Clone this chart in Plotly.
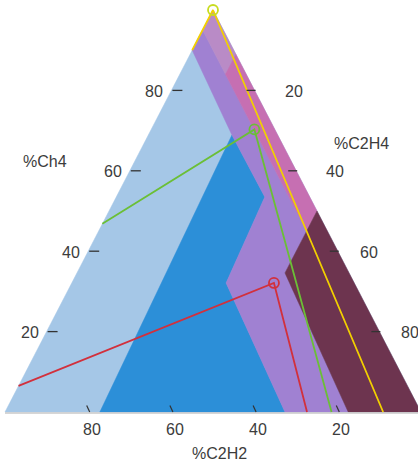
import plotly.graph_objects as go

# ---------------- data (ternary %: CH4, C2H4, C2H2) ----------------
zone_D2_ch4  = [0.0, 68.9, 53.5, 32.1, 0.0]
zone_D2_c2h4 = [22.8, 20.1, 35.7, 37.1, 67.3]
zone_D2_c2h2 = [77.2, 11.0, 10.8, 30.8, 32.7]

zone_DT_ch4  = [95.0, 90.0, 68.9, 53.5, 32.1, 0.0, 0.0, 34.6, 45.0, 84.0]
zone_DT_c2h4 = [0.0, 0.0, 20.1, 35.7, 37.1, 67.3, 82.5, 50.0, 50.0, 11.0]
zone_DT_c2h2 = [5.0, 10.0, 11.0, 10.8, 30.8, 32.7, 17.5, 15.4, 5.0, 5.0]

zone_T1_ch4  = [95.0, 100.0, 89.0, 84.0]
zone_T1_c2h4 = [0.0, 0.0, 11.0, 11.0]
zone_T1_c2h2 = [5.0, 0.0, 0.0, 5.0]

zone_T2_ch4  = [89.0, 50.0, 45.0, 84.0]
zone_T2_c2h4 = [11.0, 50.0, 50.0, 11.0]
zone_T2_c2h2 = [0.0, 0.0, 5.0, 5.0]

zone_T3_ch4  = [50.0, 0.0, 0.0, 34.6]
zone_T3_c2h4 = [50.0, 100.0, 82.5, 50.0]
zone_T3_c2h2 = [0.0, 0.0, 17.5, 15.4]

red_ch4  = [6.5, 32.1, 0.0]
red_c2h4 = [0.0, 48.6, 72.6]
red_c2h2 = [93.5, 19.3, 27.4]

green_ch4  = [46.8, 70.3, 0.0]
green_c2h4 = [0.0, 24.8, 78.5]
green_c2h2 = [53.2, 4.9, 21.5]

yellow_ch4  = [90.0, 100.0, 0.0]
yellow_c2h4 = [0.0, 0.0, 90.9]
yellow_c2h2 = [10.0, 0.0, 9.1]

tick_values = [20, 40, 60, 80]
tick_labels = ["20", "40", "60", "80"]

# ---------------- geometry (pixel corners of the triangle) ----------------
CORNER_C2H2 = (5.0, 412.0)   # bottom-left
CORNER_CH4 = (213.0, 10.0)   # apex
CORNER_C2H4 = (421.0, 412.0) # bottom-right


def to_xy(ch4, c2h4, c2h2):
    xs, ys = [], []
    for m, e, a in zip(ch4, c2h4, c2h2):
        s = m + e + a
        m, e, a = m / s, e / s, a / s
        xs.append(a * CORNER_C2H2[0] + m * CORNER_CH4[0] + e * CORNER_C2H4[0])
        ys.append(a * CORNER_C2H2[1] + m * CORNER_CH4[1] + e * CORNER_C2H4[1])
    return xs, ys


fig = go.Figure()


def add_zone(ch4, c2h4, c2h2, color):
    x, y = to_xy(ch4, c2h4, c2h2)
    fig.add_trace(go.Scatter(x=x + [x[0]], y=y + [y[0]], mode="lines", fill="toself",
                             fillcolor=color, line=dict(width=0.5, color=color),
                             hoverinfo="skip"))


# whole triangle (D1 background)
add_zone([0, 100, 0], [0, 0, 100], [100, 0, 0], "#a5c7e7")
add_zone(zone_D2_ch4, zone_D2_c2h4, zone_D2_c2h2, "#2c8fd8")
add_zone(zone_DT_ch4, zone_DT_c2h4, zone_DT_c2h2, "#a081d2")
add_zone(zone_T1_ch4, zone_T1_c2h4, zone_T1_c2h2, "#b98bc6")
add_zone(zone_T2_ch4, zone_T2_c2h4, zone_T2_c2h2, "#c66fb2")
add_zone(zone_T3_ch4, zone_T3_c2h4, zone_T3_c2h2, "#6d344f")

# bottom baseline
bx, by = to_xy([0, 0], [0, 100], [100, 0])
fig.add_trace(go.Scatter(x=bx, y=[v + 1 for v in by], mode="lines",
                         line=dict(color="#c9c9c9", width=1.5), hoverinfo="skip"))


def add_path(ch4, c2h4, c2h2, color, mcolor):
    x, y = to_xy(ch4, c2h4, c2h2)
    fig.add_trace(go.Scatter(x=x, y=y, mode="lines", line=dict(color=color, width=1.8),
                             hoverinfo="skip"))
    fig.add_trace(go.Scatter(x=[x[1]], y=[y[1]], mode="markers",
                             marker=dict(symbol="circle-open", size=10,
                                         line=dict(color=mcolor, width=1.8), color=mcolor),
                             hoverinfo="skip"))


add_path(red_ch4, red_c2h4, red_c2h2, "#d2303c", "#d2303c")
add_path(green_ch4, green_c2h4, green_c2h2, "#6bbf36", "#6bbf36")
add_path(yellow_ch4, yellow_c2h4, yellow_c2h2, "#f2d000", "#c8dc20")

TXT = dict(family="Liberation Sans, Arial, sans-serif", size=16, color="#3c3c3c")
TICK_COLOR = "#333333"

# left axis (CH4)
lx, ly = to_xy(tick_values, [0] * 4, [100 - v for v in tick_values])
for x, y, lab in zip(lx, ly, tick_labels):
    fig.add_shape(type="line", x0=x + 1, x1=x + 11, y0=y, y1=y,
                  line=dict(color=TICK_COLOR, width=1.3))
    fig.add_annotation(x=x - 6, y=y + 1, text=lab, showarrow=False, xanchor="right",
                       yanchor="middle", font=TXT)

# right axis (C2H4)
rx, ry = to_xy([100 - v for v in tick_values], tick_values, [0] * 4)
right_shift = [28, 28, 20, 20]
for x, y, lab, s in zip(rx, ry, tick_labels, right_shift):
    fig.add_shape(type="line", x0=x - 8, x1=x + 1, y0=y, y1=y,
                  line=dict(color=TICK_COLOR, width=1.3))
    fig.add_annotation(x=x + s, y=y + 1, text=lab, showarrow=False, xanchor="left",
                       yanchor="middle", font=TXT)

# bottom axis (C2H2)
bx, by = to_xy([0] * 4, [100 - v for v in tick_values], tick_values)
for x, y, lab in zip(bx, by, tick_labels):
    fig.add_shape(type="line", x0=x + 1.5, x1=x - 1.5, y0=y, y1=y - 6.5,
                  line=dict(color=TICK_COLOR, width=1.2))
    fig.add_annotation(x=x + 3.5, y=y + 17, text=lab, showarrow=False, xanchor="center",
                       yanchor="middle", font=TXT)

fig.add_annotation(x=45, y=161, text="%Ch4", showarrow=False, font=TXT)
fig.add_annotation(x=361, y=143, text="%C2H4", showarrow=False, font=TXT)
fig.add_annotation(x=219, y=453, text="%C2H2", showarrow=False, font=TXT)

fig.update_layout(
    width=418, height=463, margin=dict(l=0, r=0, t=0, b=0),
    paper_bgcolor="white", plot_bgcolor="white", showlegend=False,
    xaxis=dict(range=[0, 418], visible=False, fixedrange=True),
    yaxis=dict(range=[463, 0], visible=False, fixedrange=True),
)

fig.write_html("out.html", config={"displayModeBar": False})

# remove default page margins so the figure sits at the window's top-left corner
with open("out.html", "r", encoding="utf-8") as f:
    html = f.read()
html = html.replace("<body>", '<body style="margin:0;padding:0;overflow:hidden">', 1)
with open("out.html", "w", encoding="utf-8") as f:
    f.write(html)
